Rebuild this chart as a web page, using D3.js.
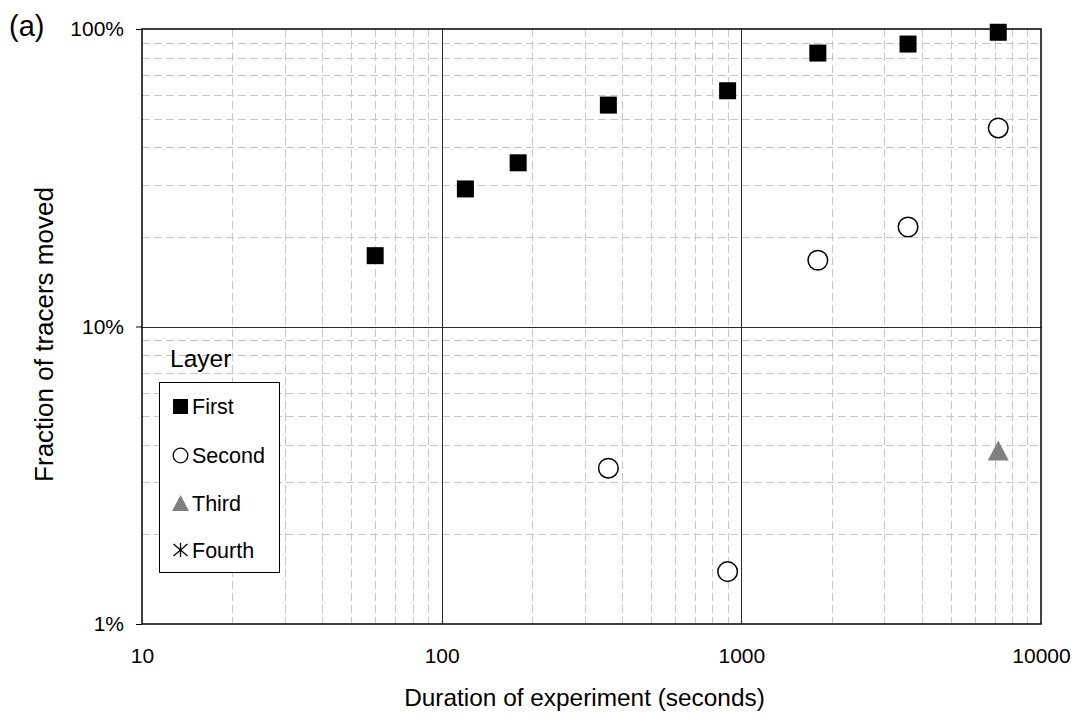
<!DOCTYPE html>
<meta charset="utf-8">
<body style="margin:0;background:#fff">
<script src="https://d3js.org/d3.v7.min.js" charset="utf-8"></script>
<style>
  text { font-family: "Liberation Sans", Arial, sans-serif; fill: #000; }
</style>
<script>
var width = 1078;
var height = 717;

// data (duration in seconds, fraction in %)
var firstX  = [60, 120, 180, 360, 900, 1800, 3600, 7200];
var firstY  = [17.3, 29, 35.5, 55.5, 62, 83, 89, 97.5];
var secondX = [360, 900, 1800, 3600, 7200];
var secondY = [3.34, 1.5, 16.7, 21.6, 46.5];
var thirdX  = [7200];
var thirdY  = [3.8];
var xTicks = [10, 100, 1000, 10000];
var yTicks = [1, 10, 100];
var legendNames = ["First", "Second", "Third", "Fourth"];

var margin = {left: 142, right: 37, top: 29, bottom: 93};

var svg = d3.select("body").append("svg")
            .attr("width", width)
            .attr("height", height);

var x = d3.scaleLog().domain([10, 10000]).range([margin.left, width - margin.right]);
var y = d3.scaleLog().domain([1, 100]).range([height - margin.bottom, margin.top]);

// minor grid
var minorX = [], minorY = [];
[10, 100, 1000].forEach(function(d) {
  for (var k = 2; k < 10; k++) minorX.push(d * k);
});
[1, 10].forEach(function(d) {
  for (var k = 2; k < 10; k++) minorY.push(d * k);
});

var grid = svg.append("g");
grid.selectAll(".mx").data(minorX).enter().append("line")
    .attr("x1", function(d) { return Math.round(x(d)) + 0.5; })
    .attr("x2", function(d) { return Math.round(x(d)) + 0.5; })
    .attr("y1", y(100)).attr("y2", y(1))
    .attr("stroke", "#c8c8c8").attr("stroke-dasharray", "8,4");
grid.selectAll(".my").data(minorY).enter().append("line")
    .attr("y1", function(d) { return Math.round(y(d)) + 0.5; })
    .attr("y2", function(d) { return Math.round(y(d)) + 0.5; })
    .attr("x1", x(10)).attr("x2", x(10000))
    .attr("stroke", "#c8c8c8").attr("stroke-dasharray", "8,4");

// major grid
grid.selectAll(".Mx").data([100, 1000]).enter().append("line")
    .attr("x1", function(d) { return Math.round(x(d)) + 0.5; })
    .attr("x2", function(d) { return Math.round(x(d)) + 0.5; })
    .attr("y1", y(100)).attr("y2", y(1))
    .attr("stroke", "#2a2a2a");
grid.selectAll(".My").data([10]).enter().append("line")
    .attr("y1", function(d) { return Math.round(y(d)) + 0.5; })
    .attr("y2", function(d) { return Math.round(y(d)) + 0.5; })
    .attr("x1", x(10)).attr("x2", x(10000))
    .attr("stroke", "#2a2a2a");

// frame
svg.append("rect")
   .attr("x", x(10)).attr("y", y(100))
   .attr("width", x(10000) - x(10)).attr("height", y(1) - y(100))
   .attr("fill", "none").attr("stroke", "#000").attr("stroke-width", 1.5);

// axes
var xAxis = d3.axisBottom(x).tickValues(xTicks).tickSize(0).tickPadding(24)
              .tickFormat(d3.format("d"));
var gx = svg.append("g")
    .attr("transform", "translate(0," + y(1) + ")")
    .call(xAxis);
gx.attr("font-size", null).attr("font-family", null);
gx.select(".domain").remove();
gx.selectAll("text").style("font-size", "21px");

var yAxis = d3.axisLeft(y).tickValues(yTicks).tickSize(6).tickPadding(12)
              .tickFormat(function(d) { return d + "%"; });
var gy = svg.append("g")
    .attr("transform", "translate(" + x(10) + ",0)")
    .call(yAxis);
gy.attr("font-size", null).attr("font-family", null);
gy.select(".domain").remove();
gy.selectAll("line").attr("stroke", "#000");
gy.selectAll("text").style("font-size", "21px");

// axis titles
svg.append("text")
   .attr("x", 584.5).attr("y", 706)
   .attr("text-anchor", "middle")
   .style("font-size", "24.4px")
   .text("Duration of experiment (seconds)");
svg.append("text")
   .attr("transform", "translate(53,334.5) rotate(-90)")
   .attr("text-anchor", "middle")
   .style("font-size", "26px")
   .text("Fraction of tracers moved");
svg.append("text")
   .attr("x", 9).attr("y", 36)
   .style("font-size", "29px")
   .text("(a)");

// points
var first = firstX.map(function(d, i) { return {x: d, y: firstY[i]}; });
var second = secondX.map(function(d, i) { return {x: d, y: secondY[i]}; });
var third = thirdX.map(function(d, i) { return {x: d, y: thirdY[i]}; });

function triangle(w, h) {
  return "M0," + (-h / 2) + "L" + (w / 2) + "," + (h / 2) + "L" + (-w / 2) + "," + (h / 2) + "Z";
}

svg.selectAll(".first").data(first).enter().append("rect")
   .attr("x", function(d) { return x(d.x) - 8.5; })
   .attr("y", function(d) { return y(d.y) - 8.5; })
   .attr("width", 17).attr("height", 17)
   .attr("fill", "#000");

svg.selectAll(".second").data(second).enter().append("circle")
   .attr("cx", function(d) { return x(d.x); })
   .attr("cy", function(d) { return y(d.y); })
   .attr("r", 9.8)
   .attr("fill", "#fff").attr("stroke", "#000").attr("stroke-width", 1.5);

svg.selectAll(".third").data(third).enter().append("path")
   .attr("d", triangle(21, 20))
   .attr("transform", function(d) { return "translate(" + x(d.x) + "," + (y(d.y) - 1) + ")"; })
   .attr("fill", "#808080");

// legend
var lg = svg.append("g");
lg.append("text").attr("x", 170).attr("y", 367).style("font-size", "24.5px").text("Layer");
lg.append("rect").attr("x", 159.5).attr("y", 382.5).attr("width", 120).attr("height", 190)
  .attr("fill", "#fff").attr("stroke", "#000").attr("stroke-width", 1);

var rowY = [406.5, 455.5, 503, 550];
legendNames.forEach(function(name, i) {
  var cy = rowY[i];
  var cx = 180.5;
  if (i === 0) {
    lg.append("rect").attr("x", cx - 7.5).attr("y", cy - 7.5).attr("width", 15).attr("height", 15).attr("fill", "#000");
  } else if (i === 1) {
    lg.append("circle").attr("cx", cx).attr("cy", cy).attr("r", 7.3).attr("fill", "#fff").attr("stroke", "#000").attr("stroke-width", 1.3);
  } else if (i === 2) {
    lg.append("path").attr("d", triangle(17, 16))
      .attr("transform", "translate(" + cx + "," + cy + ")").attr("fill", "#808080");
  } else {
    // asterisk drawn as three strokes
    [[-7, -6, 7, 6], [-7, 6, 7, -6], [0, -7, 0, 7]].forEach(function(s) {
      lg.append("line").attr("x1", cx + s[0]).attr("y1", cy + s[1])
        .attr("x2", cx + s[2]).attr("y2", cy + s[3])
        .attr("stroke", "#000").attr("stroke-width", 1.3);
    });
  }
  lg.append("text").attr("x", 192).attr("y", cy + 7.5).style("font-size", "21.5px").text(name);
});
</script>
</body>
</html>
